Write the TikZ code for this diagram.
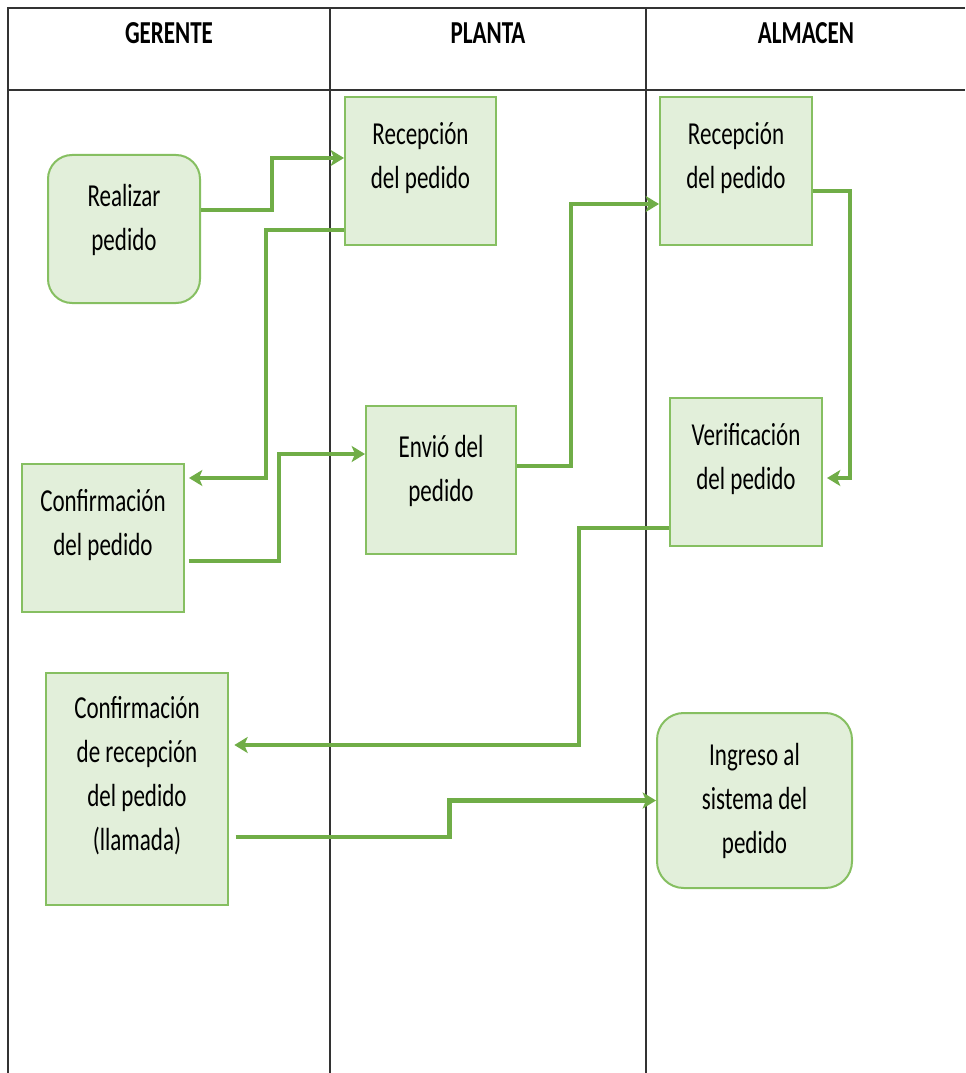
\documentclass[tikz,border=0pt]{standalone}
\usepackage{fontspec}
\newfontfamily\calfont[FakeStretch=0.72]{Carlito}
\usetikzlibrary{arrows.meta}
\definecolor{boxfill}{HTML}{E2EFDA}
\definecolor{boxline}{HTML}{86BF61}
\definecolor{flowc}{HTML}{70AD47}
\begin{document}
\begin{tikzpicture}[x=0.75pt,y=-0.75pt,
  lane/.style={line width=1.6pt, draw=black!80},
  head/.style={font=\calfont\bfseries\fontsize{24}{28}\selectfont, text depth=0pt, inner sep=0pt},
  act/.style={draw=boxline, fill=boxfill, line width=1.5pt, align=center, font=\calfont\fontsize{24}{33}\selectfont, inner sep=0pt},
  rnd/.style={act, rounded corners=18pt},
  flow/.style={draw=flowc, line width=3.4pt, -{Stealth[length=10pt,width=12pt,inset=2.5pt]}}
]
\useasboundingbox (0,0) rectangle (965,1073);
% swimlane table
\draw[lane] (965,8) -- (8,8) -- (8,1073);
\draw[lane] (8,90) -- (965,90);
\draw[lane] (330,8) -- (330,1073);
\draw[lane] (646,8) -- (646,1073);
\node[head] (hg) at (169,33) {GERENTE};
\node[head] (hp) at (488,33) {PLANTA};
\node[head] (ha) at (806,33) {ALMACEN};
% activities
\node[rnd, minimum width=114pt, minimum height=111pt, text depth=18pt] (real) at (124,229) {Realizar\\pedido};
\node[act, minimum width=113.25pt, minimum height=111pt, text depth=23pt] (rp) at (420.5,171) {Recepción\\del pedido};
\node[act, minimum width=114pt, minimum height=111pt, text depth=23pt] (ra) at (736,171) {Recepción\\del pedido};
\node[act, minimum width=112.5pt, minimum height=111pt, text depth=18pt] (env) at (441,480) {Envió del\\pedido};
\node[act, minimum width=114pt, minimum height=111pt, text depth=23pt] (ver) at (746,472) {Verificación\\del pedido};
\node[act, minimum width=121.5pt, minimum height=111pt, text depth=23pt] (conf) at (103,538) {Confirmación\\del pedido};
\node[act, minimum width=136.5pt, minimum height=174pt, text depth=23pt] (crec) at (137,789) {Confirmación\\de recepción\\del pedido\\(llamada)};
\node[rnd, minimum width=146.25pt, minimum height=131.25pt, rounded corners=20pt] (ing) at (754.5,800.5) {Ingreso al\\sistema del\\pedido};
% connectors
\draw[flow] ([yshift=14.25pt]real.east) -- ++(71,0) |- ([yshift=9.75pt]rp.west);
\draw[flow] ([yshift=-44.25pt]rp.west) -- ++(-78,0) |- ([yshift=45pt,xshift=3pt]conf.east);
\draw[flow] ([yshift=-17.25pt,xshift=3pt]conf.east) -- ++(90,0) |- ([yshift=19.5pt]env.west);
\draw[flow] ([yshift=10.5pt]env.east) -- ++(54,0) |- ([yshift=-24.75pt]ra.west);
\draw[flow] ([yshift=-15pt]ra.east) -- ++(37,0) |- ([yshift=-4.5pt,xshift=3pt]ver.east);
\draw[flow] ([yshift=-42pt]ver.west) -- ++(-90,0) |- ([yshift=33pt,xshift=4pt]crec.east);
\draw[flow] ([yshift=-36pt,xshift=5pt]crec.east) -- ++(214,0) |- (ing.west);
\end{tikzpicture}
\end{document}
